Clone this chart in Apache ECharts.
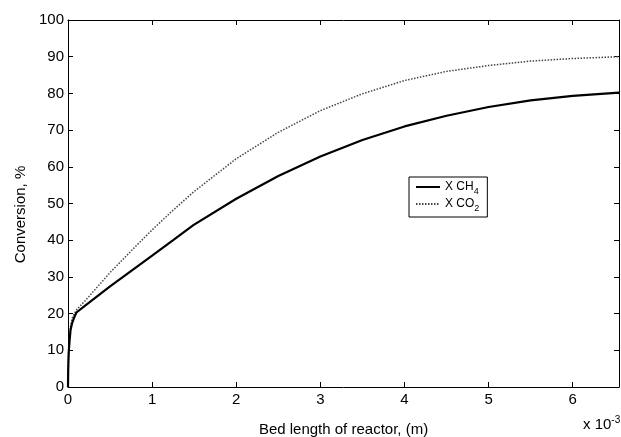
<!DOCTYPE html>
<html>
<head>
<meta charset="utf-8">
<script src="https://cdn.jsdelivr.net/npm/echarts@6/dist/echarts.min.js"></script>
<style>
html, body { margin: 0; padding: 0; background: #fff; }
#chart { width: 621px; height: 437px; }
</style>
</head>
<body>
<div id="chart"></div>
<script>
// bed length, x 10^-3 m
const bedLength = [0, 0.002, 0.005, 0.01, 0.02, 0.03, 0.05, 0.08, 0.1, 0.2, 0.5, 0.85, 1.0, 1.25, 1.49, 1.51, 2.0, 2.5, 3.0, 3.5, 4.0, 4.5, 5.0, 5.5, 6.0, 6.55];
// conversion, %
const convCH4 = [0, 4, 7, 10, 13, 15.5, 17.5, 19.3, 20.3, 22.1, 27.4, 33.3, 35.8, 40.0, 44.1, 44.5, 51.3, 57.5, 62.8, 67.3, 71.0, 73.9, 76.3, 78.1, 79.3, 80.2];
const convCO2 = [0, 5, 8, 11, 14, 16.5, 18.8, 20.2, 21.0, 23.4, 31.2, 39.4, 42.8, 48.2, 53.1, 53.5, 62.2, 69.4, 75.3, 79.9, 83.5, 86.0, 87.6, 88.8, 89.5, 90.0];
const seriesNames = ['CH4', 'CO2'];

const font = 'Liberation Sans';

function pairs(xs, ys) {
    return xs.map((x, i) => [x, ys[i]]);
}

const chart = echarts.init(document.getElementById('chart'));

const baseAxis = {
    axisLine: { show: true, onZero: false, lineStyle: { color: '#000', width: 1 } },
    axisTick: { show: true, inside: true, length: 5, lineStyle: { color: '#000' } },
    splitLine: { show: false }
};

chart.setOption({
    backgroundColor: '#fff',
    animation: false,
    grid: { left: 68, top: 20, right: 2, bottom: 50, outerBoundsMode: 'none', containLabel: false },
    xAxis: [
        Object.assign({}, baseAxis, {
            type: 'value', min: 0, max: 6.55, interval: 1,
            axisLabel: {
                color: '#000', fontFamily: font, fontSize: 15, margin: 5,
                formatter: v => Number.isInteger(v) ? String(v) : ''
            },
            name: 'Bed length of reactor, (m)',
            nameLocation: 'middle', nameGap: 35,
            nameTextStyle: { color: '#000', fontFamily: font, fontSize: 15 }
        }),
        Object.assign({}, baseAxis, {
            type: 'value', min: 0, max: 6.55, interval: 1, position: 'top',
            axisLabel: { show: false }
        })
    ],
    yAxis: [
        Object.assign({}, baseAxis, {
            type: 'value', min: 0, max: 100, interval: 10,
            axisLabel: { color: '#000', fontFamily: font, fontSize: 15, margin: 4 },
            name: 'Conversion, %',
            nameLocation: 'middle', nameGap: 40,
            nameTextStyle: { color: '#000', fontFamily: font, fontSize: 15, padding: [0, 22, 0, 0] }
        }),
        Object.assign({}, baseAxis, {
            type: 'value', min: 0, max: 100, interval: 10, position: 'right',
            axisLabel: { show: false }
        })
    ],
    legend: {
        orient: 'vertical',
        left: 409, top: 177,
        backgroundColor: '#fff',
        borderColor: '#000', borderWidth: 1,
        padding: [4, 8, 4, 6],
        itemGap: 2,
        itemWidth: 24, itemHeight: 12,
        itemStyle: { opacity: 0 },
        data: seriesNames,
        formatter: n => n === 'CH4' ? '{t|X CH}{s|4}' : '{t|X CO}{s|2}',
        textStyle: {
            color: '#000', fontFamily: font,
            rich: {
                t: { fontSize: 12, fontFamily: font, color: '#000' },
                s: { fontSize: 9, fontFamily: font, color: '#000', padding: [9, 0, 0, 0] }
            }
        }
    },
    graphic: [{
        type: 'text',
        left: 583, top: 415,
        style: {
            text: '{a|x 10}{b|-3}',
            rich: {
                a: { fontSize: 15, fontFamily: font, fill: '#000' },
                b: { fontSize: 10, fontFamily: font, fill: '#000', padding: [0, 0, 10, 0] }
            }
        }
    }],
    series: [
        {
            name: seriesNames[0], type: 'line', symbol: 'none',
            data: pairs(bedLength, convCH4),
            lineStyle: { color: '#000', width: 2.2 },
            itemStyle: { color: '#000' },
            z: 3
        },
        {
            name: seriesNames[1], type: 'line', symbol: 'none',
            data: pairs(bedLength, convCO2),
            lineStyle: { color: '#444', width: 1.5, type: [1.5, 1.5] },
            itemStyle: { color: '#444' },
            z: 2
        }
    ]
});
</script>
</body>
</html>
